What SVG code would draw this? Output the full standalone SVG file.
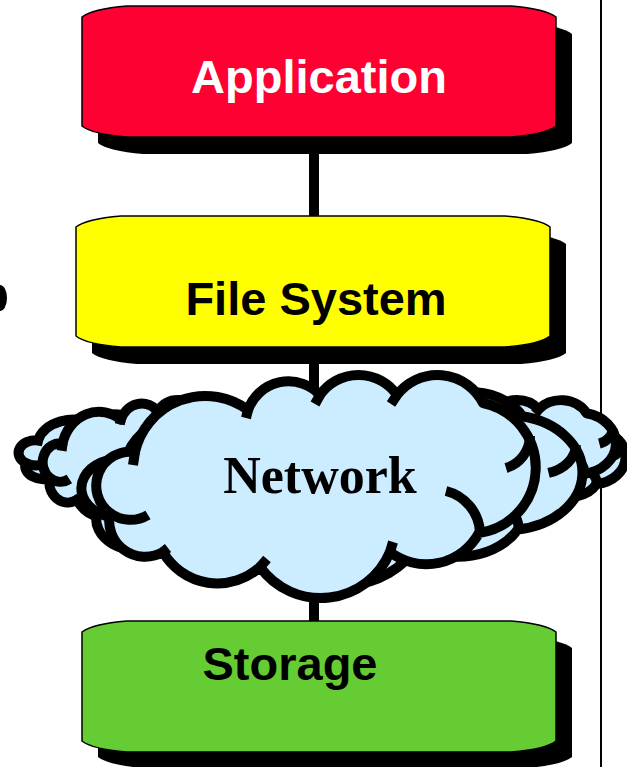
<svg xmlns="http://www.w3.org/2000/svg" xmlns:xlink="http://www.w3.org/1999/xlink" width="627" height="767" viewBox="0 0 627 767">
  <style>
    .shadow { fill: #000; }
    .box { stroke: #000; stroke-width: 1.5; }
    .label { font-family: "Liberation Sans", Arial, sans-serif; font-weight: bold; font-size: 47px; text-anchor: middle; }
    .cloudtxt { font-family: "Liberation Serif", "Times New Roman", serif; font-weight: bold; font-size: 52px; text-anchor: middle; fill: #000; }
    .cloud-outline { fill: #CCECFF; stroke: #000; stroke-width: 10; stroke-linejoin: round; }
    .cloud-inner { fill: none; stroke: #000; stroke-width: 10; stroke-linecap: butt; }
    .link { stroke: #000; stroke-width: 10; fill: none; }
  </style>
  <defs>
    <!-- rounded-barrel box outline, origin at top-left, 474 x 131 -->
    <path id="boxShape" d="M0,11 Q10,3 45,0 L429,0 Q464,3 474,11 L474,120 Q464,128 429,131 L45,131 Q10,128 0,120 Z"/>
    <!-- cloud: closed outline plus the open inner arcs -->
    <g id="cloud">
      <path class="cloud-outline" vector-effect="non-scaling-stroke" d="M135,452 A72,72 0 0 1 248,410 A43,43 0 0 1 320,395 A47,47 0 0 1 397,395 A51,51 0 0 1 483,403 A66,66 0 0 1 479,533 A60,60 0 0 1 390,552 A75,75 0 0 1 260,567 A63,63 0 0 1 163,552 A36,36 0 0 1 110,513 A34,34 0 0 1 135,452 Z"/>
      <path class="cloud-inner" vector-effect="non-scaling-stroke" d="M110,513 A34,34 0 0 0 148,515 M530,436 A34,34 0 0 1 506,468 M446,491 A45,45 0 0 1 480,532 M390,552 L393,542 M260,567 L267,559 M248,410 L246,418 M320,395 L315,404 M397,395 L391,404 M135,452 L133,465 M163,552 L168,548"/>
    </g>
  </defs>

  <!-- border line on the right -->
  <line x1="601" y1="0" x2="601" y2="767" stroke="#000" stroke-width="2"/>

  <!-- partial mark on the left edge -->
  <ellipse cx="0" cy="298" rx="7" ry="13" fill="#000"/>

  <!-- connectors -->
  <g id="connectors">
    <line class="link" x1="314" y1="137" x2="314" y2="222"/>
    <line class="link" x1="314" y1="347" x2="314" y2="400"/>
    <line class="link" x1="314" y1="580" x2="314" y2="625"/>
  </g>

  <!-- Application -->
  <g id="application">
    <use xlink:href="#boxShape" class="shadow" transform="translate(98,23)"/>
    <use xlink:href="#boxShape" class="box" fill="#FF0033" transform="translate(82,6)"/>
    <text class="label" x="319" y="93" fill="#FFFFFF">Application</text>
  </g>

  <!-- File System -->
  <g id="file-system">
    <use xlink:href="#boxShape" class="shadow" transform="translate(92,233)"/>
    <use xlink:href="#boxShape" class="box" fill="#FFFF00" transform="translate(76,216)"/>
    <text class="label" x="316" y="315" fill="#000">File System</text>
  </g>

  <!-- Network: stacked clouds, back to front -->
  <g id="network">
    <use xlink:href="#cloud" transform="matrix(0.501,0,0,0.369,-29.6,273.6)"/>
    <use xlink:href="#cloud" transform="matrix(0.512,0,0,0.418,351.3,261.3)"/>
    <use xlink:href="#cloud" transform="matrix(0.515,0,0,0.564,-6.9,188.5)"/>
    <use xlink:href="#cloud" transform="matrix(0.558,0,0,0.467,317,225)"/>
    <use xlink:href="#cloud" transform="matrix(1.14,0,0,0.871,-28.3,65.3)"/>
    <use xlink:href="#cloud"/>
    <text class="cloudtxt" x="320" y="493">Network</text>
  </g>

  <!-- Storage -->
  <g id="storage">
    <use xlink:href="#boxShape" class="shadow" transform="translate(98,637)"/>
    <use xlink:href="#boxShape" class="box" fill="#66CC33" transform="translate(82,621)"/>
    <text class="label" x="290" y="680" fill="#000">Storage</text>
  </g>
</svg>
